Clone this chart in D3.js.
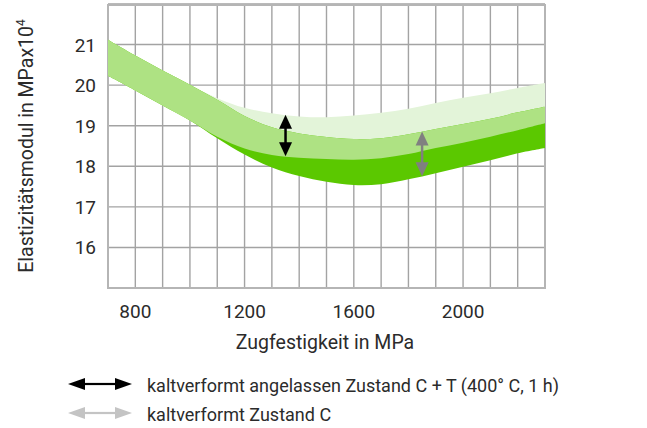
<!DOCTYPE html>
<html><head><meta charset="utf-8">
<script src="https://cdn.jsdelivr.net/npm/d3@7"></script>
<style>
body{margin:0;background:#fff;}
svg{display:block;font-family:Roboto,"Liberation Sans",sans-serif;}
</style></head>
<body><svg id="c" width="647" height="428"></svg>
<script>
// Zugfestigkeit (MPa)
const strength = [700,800,900,1000,1100,1200,1300,1400,1500,1600,1700,1800,1900,2000,2100,2200,2300];
// Zustand C + T (angelassen): upper / lower edge of band
const ctUpper = [21.12,20.73,20.36,20.01,19.68,19.44,19.31,19.23,19.21,19.25,19.32,19.42,19.56,19.69,19.80,19.93,20.05];
const ctLower = [20.23,19.87,19.50,19.13,18.73,18.44,18.28,18.21,18.18,18.16,18.20,18.30,18.45,18.58,18.73,18.89,19.06];
// Zustand C: upper / lower edge of band
const cUpper  = [21.12,20.73,20.36,20.01,19.64,19.24,18.96,18.81,18.72,18.67,18.69,18.79,18.92,19.04,19.17,19.33,19.47];
const cLower  = [20.23,19.87,19.50,19.13,18.69,18.29,17.97,17.76,17.62,17.54,17.56,17.68,17.83,17.99,18.15,18.32,18.45];
const xTicks = [800,1200,1600,2000];
const yTicks = [16,17,18,19,20,21];
const arrowPos = {ct:1350, c:1850};
const legendLabels = ["kaltverformt angelassen Zustand C + T (400° C, 1 h)","kaltverformt Zustand C"];
const xTitle = "Zugfestigkeit in MPa";
const yTitle = "Elastizitätsmodul in MPax10";

const svg = d3.select("#c");
const L=108, R=545, T=4, B=288;
const x = d3.scaleLinear().domain([700,2300]).range([L,R]);
const y = d3.scaleLinear().domain([15,22]).range([B,T]);
const gridColor="#a3a3a3", textColor="#2b2b2b";

// grid
const g = svg.append("g");
g.selectAll("line.v").data(d3.range(700,2301,100)).join("line")
  .attr("x1",d=>x(d)).attr("x2",d=>x(d)).attr("y1",y(22)+1).attr("y2",B)
  .attr("stroke",gridColor).attr("stroke-width",1.4);
g.selectAll("line.h").data(d3.range(15,22.01,1)).join("line")
  .attr("y1",d=>y(d)).attr("y2",d=>y(d)).attr("x1",L).attr("x2",R)
  .attr("stroke",gridColor).attr("stroke-width",1.4);
svg.append("rect").attr("x",L).attr("y",y(22)+1).attr("width",R-L).attr("height",B-y(22)-1)
  .attr("fill","none").attr("stroke","#b5b5b5").attr("stroke-width",2);

// bands
const idx = d3.range(strength.length);
const area = (up,lo)=>d3.area().curve(d3.curveCatmullRom.alpha(0.5))
  .x(i=>x(strength[i])).y0(i=>y(lo[i])).y1(i=>y(up[i]));
const ovUp = idx.map(i=>Math.min(ctUpper[i],cUpper[i]));
const ovLo = idx.map(i=>Math.max(ctLower[i],cLower[i]));
svg.append("path").attr("d",area(ctUpper,ctLower)(idx)).attr("fill","#e3f4d9");
svg.append("path").attr("d",area(cUpper,cLower)(idx)).attr("fill","#5bc800");
svg.append("path").attr("d",area(ovUp,ovLo)(idx)).attr("fill","#aee283");

// vertical double arrows
function interp(arr,v){ return d3.scaleLinear().domain(strength).range(arr)(v); }
function vArrow(xv,top,bot,color){
  const px=x(xv), y1=y(top), y2=y(bot), h=14, w=6.5;
  svg.append("line").attr("x1",px).attr("x2",px).attr("y1",y1+h-1).attr("y2",y2-h+1)
    .attr("stroke",color).attr("stroke-width",2.5);
  svg.append("path").attr("d",`M${px},${y1}L${px-w},${y1+h}L${px+w},${y1+h}Z`).attr("fill",color);
  svg.append("path").attr("d",`M${px},${y2}L${px-w},${y2-h}L${px+w},${y2-h}Z`).attr("fill",color);
}
vArrow(arrowPos.ct, interp(ctUpper,arrowPos.ct), interp(ctLower,arrowPos.ct), "#000");
vArrow(arrowPos.c, interp(cUpper,arrowPos.c), interp(cLower,arrowPos.c), "#808080");

// tick labels
svg.selectAll("text.xt").data(xTicks).join("text")
  .attr("x",d=>x(d)).attr("y",318).attr("text-anchor","middle")
  .attr("font-size",19).attr("fill",textColor).text(d=>d);
svg.selectAll("text.yt").data(yTicks).join("text")
  .attr("x",96).attr("y",d=>y(d)+7).attr("text-anchor","end")
  .attr("font-size",19).attr("fill",textColor).text(d=>d);

// axis titles
svg.append("text").attr("x",325).attr("y",349).attr("text-anchor","middle")
  .attr("font-size",19.5).attr("fill",textColor).text(xTitle);
const yt = svg.append("text").attr("transform",`translate(33,${(T+B)/2}) rotate(-90)`)
  .attr("text-anchor","middle").attr("font-size",19.5).attr("fill",textColor);
yt.append("tspan").text(yTitle);
yt.append("tspan").attr("font-size",12).attr("dy",-8).text("4");

// legend
function hArrow(x1,x2,yy,color){
  const h=17, w=6;
  svg.append("line").attr("x1",x1+h-1).attr("x2",x2-h+1).attr("y1",yy).attr("y2",yy)
    .attr("stroke",color).attr("stroke-width",2.2);
  svg.append("path").attr("d",`M${x1},${yy}L${x1+h},${yy-w}L${x1+h},${yy+w}Z`).attr("fill",color);
  svg.append("path").attr("d",`M${x2},${yy}L${x2-h},${yy-w}L${x2-h},${yy+w}Z`).attr("fill",color);
}
const legColors=["#000","#c4c4c4"], legY=[384,413];
legendLabels.forEach((t,i)=>{
  hArrow(68,132,legY[i],legColors[i]);
  svg.append("text").attr("x",147).attr("y",legY[i]+7.5).attr("font-size",18)
    .attr("fill",textColor).text(t);
});
</script></body></html>
